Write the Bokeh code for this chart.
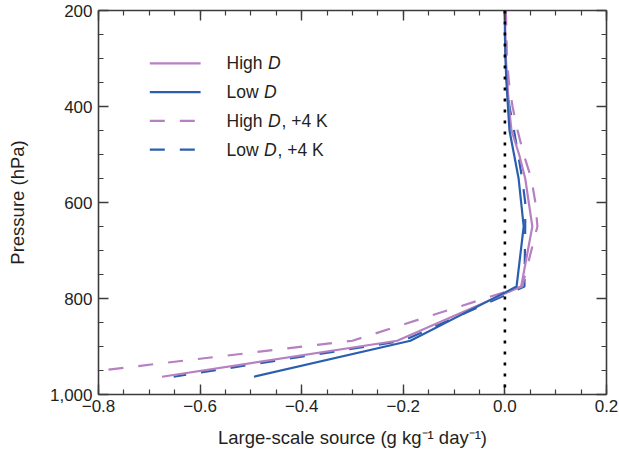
from bokeh.plotting import figure
from bokeh.models import (Range1d, FixedTicker, LinearAxis, Span, Label, Arrow)
from bokeh.embed import file_html
from bokeh.resources import INLINE

# ---- data ----
pressure = [200, 250, 300, 350, 400, 450, 500, 550, 600, 650, 775, 888, 963]
high_d = [0.0, 0.001, 0.002, 0.005, 0.008, 0.013, 0.028, 0.040, 0.047, 0.054, 0.032, -0.212, -0.675]
low_d = [0.0, 0.0, 0.001, 0.003, 0.006, 0.009, 0.018, 0.027, 0.032, 0.037, 0.023, -0.186, -0.494]
high_d_4k = [0.002, 0.003, 0.004, 0.008, 0.015, 0.025, 0.037, 0.052, 0.060, 0.064, 0.034, -0.30, -0.90]
low_d_4k = [0.0, 0.001, 0.002, 0.004, 0.009, 0.018, 0.026, 0.034, 0.040, 0.040, 0.0385, -0.20, -0.652]

x_ticks = [-0.8, -0.6, -0.4, -0.2, 0.0, 0.2]
x_tick_labels = ["\u22120.8", "\u22120.6", "\u22120.4", "\u22120.2", "0.0", "0.2"]
x_minor = [round(-0.8 + 0.05 * i, 2) for i in range(21)]
y_ticks = [200, 400, 600, 800, 1000]
y_tick_labels = ["200", "400", "600", "800", "1,000"]
y_minor = list(range(200, 1001, 50))

series_labels = [("High", "D", ""), ("Low", "D", ""), ("High", "D", ", +4 K"), ("Low", "D", ", +4 K")]

PURPLE = "#b680c2"
BLUE = "#2c5eb0"
AX = "#3c3c3c"
TXT = "#231f20"
FONT = "Liberation Sans"
FS = "17px"
FS_TITLE = "18.5px"
FS_LEG = "17.5px"

p = figure(width=619, height=453, output_backend="svg", toolbar_location=None,
           x_range=Range1d(-0.8, 0.2), y_range=Range1d(1000, 200),
           min_border_left=98, min_border_right=13, min_border_top=10, min_border_bottom=59,
           x_axis_location=None, y_axis_location=None)
p.grid.visible = False
p.outline_line_color = None
p.background_fill_color = "white"
p.border_fill_color = "white"

xt = FixedTicker(ticks=x_ticks, minor_ticks=x_minor)
yt = FixedTicker(ticks=y_ticks, minor_ticks=y_minor)


def style_axis(ax):
    ax.axis_line_color = AX
    ax.axis_line_width = 1.6
    ax.major_tick_line_color = AX
    ax.minor_tick_line_color = AX
    ax.major_tick_line_width = 1.4
    ax.minor_tick_line_width = 1.2
    ax.major_tick_in = 10
    ax.major_tick_out = 0
    ax.minor_tick_in = 5
    ax.minor_tick_out = 0
    ax.major_label_text_font = FONT
    ax.major_label_text_font_size = FS
    ax.major_label_text_color = TXT
    ax.axis_label_text_font = FONT
    ax.axis_label_text_font_size = FS_TITLE
    ax.axis_label_text_font_style = "normal"
    ax.axis_label_text_color = TXT


xb = LinearAxis(ticker=xt, axis_label="Large-scale source (g kg\u207b\u00b9 day\u207b\u00b9)")
style_axis(xb)
xb.major_label_overrides = {t: l for t, l in zip(x_ticks, x_tick_labels)}
xb.major_label_standoff = 5
xb.axis_label_standoff = 12
p.add_layout(xb, "below")

yl = LinearAxis(ticker=yt, axis_label="Pressure (hPa)")
style_axis(yl)
yl.major_label_overrides = {t: l for t, l in zip(y_ticks, y_tick_labels)}
yl.major_label_standoff = 6
yl.axis_label_standoff = 19
p.add_layout(yl, "left")

# mirror axes (ticks only) on top and right
xa = LinearAxis(ticker=xt)
style_axis(xa)
xa.major_label_overrides = {t: "" for t in x_ticks}
xa.major_label_standoff = 0
p.add_layout(xa, "above")
yr = LinearAxis(ticker=yt)
style_axis(yr)
yr.major_label_overrides = {t: "" for t in y_ticks}
yr.major_label_standoff = 0
p.add_layout(yr, "right")

# zero reference line
p.add_layout(Span(location=0, dimension="height", line_color="black",
                  line_dash="3 8", line_width=2.6))

DASH = "15 15"
LW = 2.2
p.line(low_d_4k, pressure, line_color=BLUE, line_width=LW, line_dash=DASH)
p.line(high_d_4k, pressure, line_color=PURPLE, line_width=LW, line_dash=DASH)
p.line(high_d, pressure, line_color=PURPLE, line_width=LW)
p.line(low_d, pressure, line_color=BLUE, line_width=LW)

# ---- custom legend (italic D) ----
leg_x0, leg_x1, leg_tx = -0.699, -0.599, -0.548
leg_rows = [310, 370, 430, 490]
leg_styles = [(PURPLE, "solid"), (BLUE, "solid"), (PURPLE, DASH), (BLUE, DASH)]
d_offsets = [41.5, 37.5, 41.5, 37.5]
for (pre, ital, post), yrow, (col, dash), doff in zip(series_labels, leg_rows, leg_styles, d_offsets):
    p.add_layout(Arrow(end=None, start=None, x_start=leg_x0, y_start=yrow, x_end=leg_x1, y_end=yrow,
                       line_color=col, line_width=LW, line_dash=dash))
    p.add_layout(Label(x=leg_tx, y=yrow, text=pre, text_baseline="middle",
                       text_font=FONT, text_font_size=FS_LEG, text_color=TXT))
    p.add_layout(Label(x=leg_tx, y=yrow, x_offset=doff, text=ital, text_baseline="middle",
                       text_font=FONT, text_font_size=FS_LEG, text_font_style="italic", text_color=TXT))
    if post:
        p.add_layout(Label(x=leg_tx, y=yrow, x_offset=doff + 13.5, text=post, text_baseline="middle",
                           text_font=FONT, text_font_size=FS_LEG, text_color=TXT))

open("out.html", "w").write(file_html(p, INLINE))
